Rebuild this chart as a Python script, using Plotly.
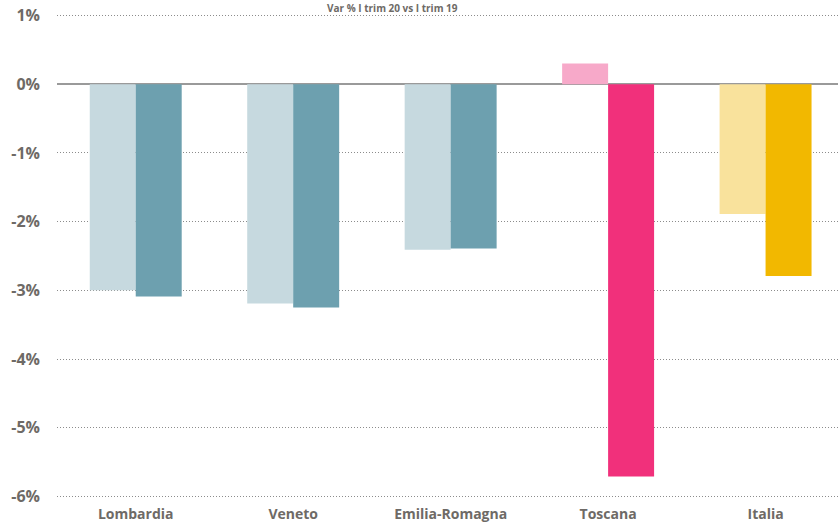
import plotly.graph_objects as go

categories = ["Lombardia", "Veneto", "Emilia-Romagna", "Toscana", "Italia"]
series_prev = [-3.00, -3.19, -2.41, 0.30, -1.89]
series_curr = [-3.09, -3.25, -2.39, -5.71, -2.79]
colors_prev = ["#c6d9df", "#c6d9df", "#c6d9df", "#f7a9c9", "#f9e29c"]
colors_curr = ["#6da0af", "#6da0af", "#6da0af", "#f1307b", "#f2b800"]
tick_vals = [1, 0, -1, -2, -3, -4, -5, -6]
tick_text = ["1%", "0%", "-1%", "-2%", "-3%", "-4%", "-5%", "-6%"]
title_text = "Var % I trim 20 vs I trim 19"

fig = go.Figure()
fig.add_trace(go.Bar(x=categories, y=series_prev, marker=dict(color=colors_prev, line=dict(width=0)), showlegend=False))
fig.add_trace(go.Bar(x=categories, y=series_curr, marker=dict(color=colors_curr, line=dict(width=0)), showlegend=False))

fig.update_layout(
    width=838, height=529,
    margin=dict(l=57, r=0, t=10, b=27),
    paper_bgcolor="white", plot_bgcolor="white",
    barmode="group", bargap=0.416, bargroupgap=0,
    font=dict(family="Open Sans", color="#6e6a66"),
    xaxis=dict(range=[-0.5, 4.46], showgrid=False, showline=False, ticks="",
               ticklabelstandoff=2,
               tickfont=dict(size=14, family="Open Sans", color="#6e6a66", weight="bold")),
    yaxis=dict(range=[-6.08, 1.08], tickvals=tick_vals, ticktext=tick_text,
               showgrid=True, gridcolor="#8c8c8c", griddash="1px,2px", gridwidth=1,
               zeroline=True, zerolinecolor="#9a9a9a", zerolinewidth=2,
               showline=False, ticks="", ticklabelstandoff=16,
               tickfont=dict(size=16, family="Open Sans", color="#6e6a66", weight="bold")),
)
fig.add_annotation(text=title_text, xref="paper", yref="paper", x=0.429, y=1,
                   yanchor="bottom", yshift=-6, showarrow=False, borderpad=0,
                   font=dict(size=10, family="Open Sans", color="#6e6a66", weight="bold"))
fig.write_html("out.html", config={"displayModeBar": False},
               post_script="document.body.style.margin='0';")
